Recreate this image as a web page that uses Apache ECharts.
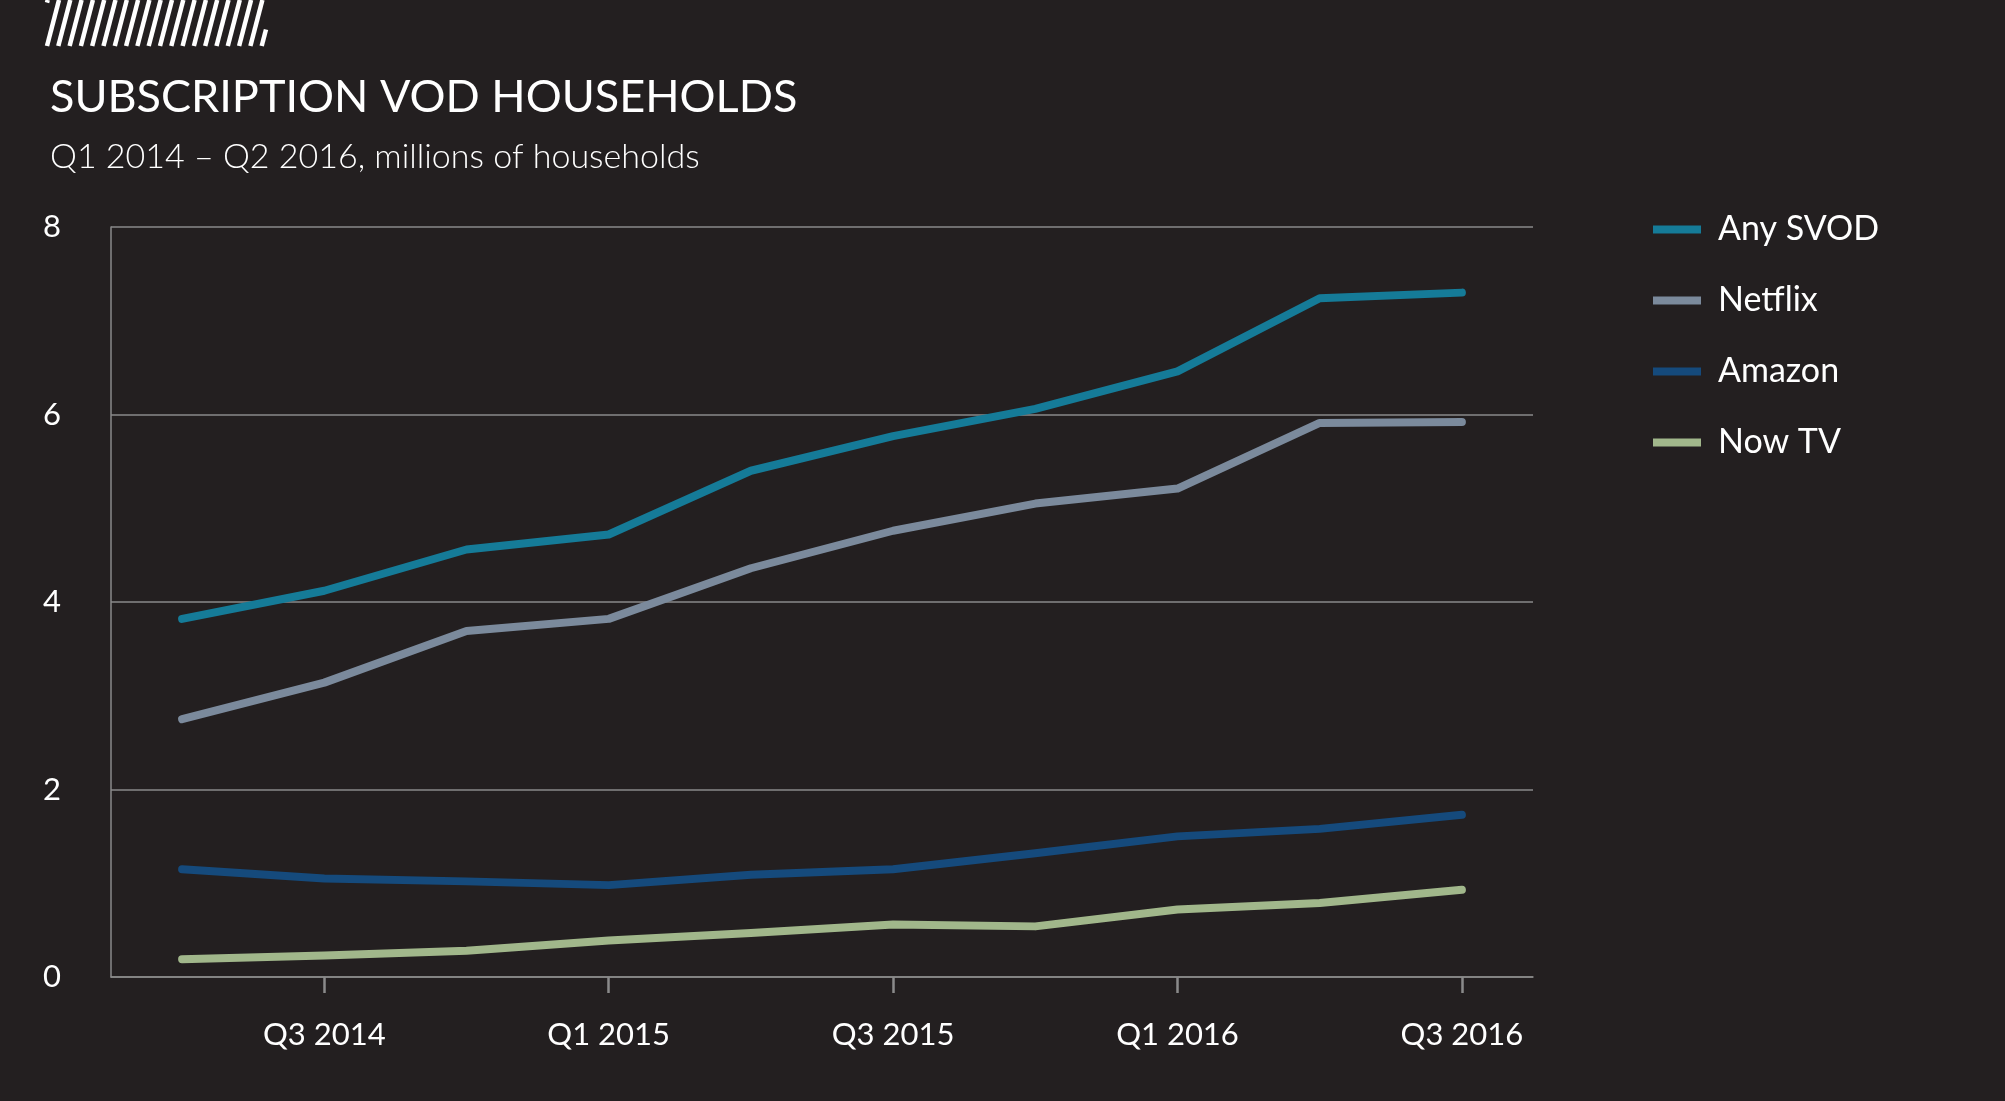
<!DOCTYPE html>
<html>
<head>
<meta charset="utf-8">
<script src="https://cdn.jsdelivr.net/npm/echarts@6/dist/echarts.min.js"></script>
<style>
html,body{margin:0;padding:0;background:#231f20;}
#main{width:2005px;height:1101px;}
</style>
</head>
<body>
<div id="main"></div>
<script>
const categories = ['Q2 2014','Q3 2014','Q4 2014','Q1 2015','Q2 2015','Q3 2015','Q4 2015','Q1 2016','Q2 2016','Q3 2016'];
const anySvod = [3.82, 4.12, 4.56, 4.72, 5.40, 5.77, 6.06, 6.46, 7.24, 7.30];
const netflix = [2.75, 3.14, 3.69, 3.82, 4.36, 4.76, 5.05, 5.21, 5.91, 5.92];
const amazon  = [1.15, 1.05, 1.02, 0.98, 1.09, 1.15, 1.32, 1.50, 1.58, 1.73];
const nowTv   = [0.19, 0.23, 0.28, 0.39, 0.47, 0.56, 0.54, 0.72, 0.79, 0.93];
const seriesNames = ['Any SVOD','Netflix','Amazon','Now TV'];
const seriesColors = ['#157b98','#7b8a9c','#154a7c','#a1b78b'];
const yTicks = [0, 2, 4, 6, 8];

const FONT = 'Lato, "Noto Sans", sans-serif';

// Hatched decoration lines (top-left)
const hatch = [];
(function(){
  const x0 = 47, x1 = 266, yTop = 0, yBot = 46, step = 11.3, dx = 12;
  for (let i = -2; i < 22; i++) {
    let xb = x0 + i * step, yb = yBot, xt = xb + dx, yt = yTop;
    if (xt < x0 || xb > x1) continue;
    if (xb < x0) { const t = (x0 - xb) / dx; yb = yBot - t * (yBot - yTop); xb = x0; }
    if (xt > x1) { const t = (xt - x1) / dx; yt = yTop + t * (yBot - yTop); xt = x1; }
    hatch.push({type:'line', shape:{x1:xb,y1:yb,x2:xt,y2:yt}, style:{stroke:'#ffffff', lineWidth:4.5}, silent:true});
  }
})();

const chart = echarts.init(document.getElementById('main'), null, {renderer:'canvas'});
const labelInterval = (idx) => idx % 2 === 1;

chart.setOption({
  backgroundColor: '#231f20',
  animation: false,
  title: [
    { text: 'SUBSCRIPTION VOD HOUSEHOLDS', left: 45, top: 70,
      textStyle: { color: '#ffffff', fontFamily: FONT, fontWeight: 400, fontSize: 45 } },
    { text: 'Q1 2014 \u2013 Q2 2016, millions of households', left: 45, top: 135,
      textStyle: { color: '#ffffff', fontFamily: FONT, fontWeight: 300, fontSize: 34 } }
  ],
  graphic: hatch,
  legend: {
    orient: 'vertical', left: 1648, top: 204,
    icon: 'rect', itemWidth: 48, itemHeight: 8, itemGap: 30,
    data: seriesNames,
    textStyle: { color: '#ffffff', fontFamily: FONT, fontSize: 34, lineHeight: 41, padding: [0,0,0,12] }
  },
  grid: { left: 111, right: 472, top: 227, bottom: 124 },
  xAxis: {
    type: 'category', data: categories, boundaryGap: true,
    axisLine: { show: true, lineStyle: { color: '#8a8a8a', width: 1.5 } },
    axisTick: { show: true, alignWithLabel: true, interval: labelInterval, length: 16, lineStyle: { color: '#8a8a8a', width: 2.5 } },
    axisLabel: { interval: labelInterval, color: '#ffffff', fontFamily: FONT, fontSize: 31, margin: 42 },
    splitLine: { show: false }
  },
  yAxis: {
    type: 'value', min: yTicks[0], max: yTicks[yTicks.length-1], interval: 2,
    axisLine: { show: true, lineStyle: { color: '#8a8a8a', width: 1.5 } },
    axisTick: { show: false },
    axisLabel: { color: '#ffffff', fontFamily: FONT, fontSize: 31, margin: 50 },
    splitLine: { show: true, lineStyle: { color: '#8a8a8a', width: 1.5 } }
  },
  series: [anySvod, netflix, amazon, nowTv].map((d, i) => ({
    name: seriesNames[i], type: 'line', data: d,
    showSymbol: false, symbol: 'none',
    lineStyle: { color: seriesColors[i], width: 8, cap: 'round', join: 'round' },
    itemStyle: { color: seriesColors[i] }
  }))
});
</script>
</body>
</html>
